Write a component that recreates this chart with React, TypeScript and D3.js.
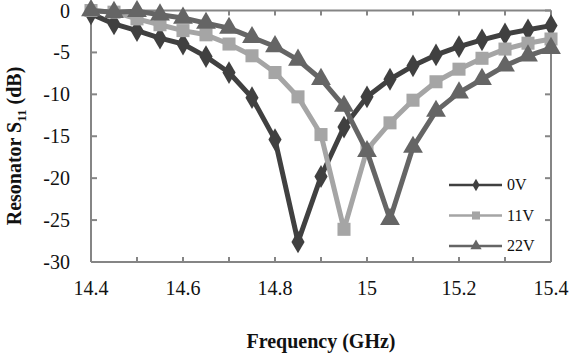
import * as d3 from "d3";
import React from "react";

// frequency points (GHz)
const freq = [14.4, 14.45, 14.5, 14.55, 14.6, 14.65, 14.7, 14.75, 14.8, 14.85, 14.9,
  14.95, 15.0, 15.05, 15.1, 15.15, 15.2, 15.25, 15.3, 15.35, 15.4];

// S11 (dB) for each bias
const s0V = [-0.4, -1.6, -2.4, -3.3, -4.0, -5.5, -7.4, -10.4, -15.4, -27.6, -19.8,
  -13.9, -10.3, -8.2, -6.6, -5.3, -4.3, -3.5, -2.8, -2.3, -1.8];
const s11V = [0, -0.2, -1.0, -1.7, -2.4, -2.9, -4.0, -5.4, -7.4, -10.3, -14.8,
  -26.1, -16.6, -13.4, -10.7, -8.5, -7.0, -5.7, -4.6, -3.9, -3.4];
const s22V = [0, -0.2, -0.1, -0.5, -0.9, -1.5, -2.1, -3.2, -4.3, -5.9, -8.2,
  -11.4, -16.8, -24.9, -16.3, -12.0, -9.8, -8.2, -6.6, -5.4, -4.5];

const xTicks = [14.4, 14.5, 14.6, 14.7, 14.8, 14.9, 15.0, 15.1, 15.2, 15.3, 15.4];
const xLabels = [14.4, 14.6, 14.8, 15, 15.2, 15.4];
const yTicks = [0, -5, -10, -15, -20, -25, -30];

const series = [
  { name: "0V", values: s0V, color: "#404040", symbol: d3.symbolDiamond, size: 150, lsize: 45 },
  { name: "11V", values: s11V, color: "#a5a5a5", symbol: d3.symbolSquare, size: 170, lsize: 65 },
  { name: "22V", values: s22V, color: "#656565", symbol: d3.symbolTriangle, size: 170, lsize: 55 },
];

const W = 571, H = 354;
const left = 91, right = 551, top = 10.5, bottom = 262;
const axisColor = "#858585";

export default function App() {
  const x = d3.scaleLinear().domain([14.4, 15.4]).range([left, right]);
  const y = d3.scaleLinear().domain([0, -30]).range([top, bottom]);
  const line = d3.line<number>().x((_, i) => x(freq[i])).y(d => y(d));

  return (
    <svg width={W} height={H}
      style={{ position: "absolute", left: 0, top: 0, background: "#fff", fontFamily: "'Liberation Serif', 'Times New Roman', Times, serif" }}>
      {/* frame */}
      <g stroke={axisColor} strokeWidth={2} fill="none">
        <line x1={left} x2={right} y1={top} y2={top} />
        <line x1={left} x2={right} y1={bottom} y2={bottom} />
        <line x1={left} x2={left} y1={top} y2={bottom} />
        <line x1={right} x2={right} y1={top} y2={bottom} />
        {xTicks.map(t => (
          <g key={"xt" + t}>
            <line x1={x(t)} x2={x(t)} y1={top} y2={top + 5} />
            <line x1={x(t)} x2={x(t)} y1={bottom} y2={bottom - 5} />
          </g>
        ))}
        {yTicks.map(t => (
          <g key={"yt" + t}>
            <line x1={left} x2={left + 6} y1={y(t)} y2={y(t)} />
            <line x1={right} x2={right - 6} y1={y(t)} y2={y(t)} />
          </g>
        ))}
      </g>

      {/* tick labels */}
      <g fontSize={20} fill="#111">
        {xLabels.map(t => (
          <text key={"xl" + t} x={x(t)} y={295} textAnchor="middle">{String(t)}</text>
        ))}
        {yTicks.map(t => (
          <text key={"yl" + t} x={70} y={y(t) + 7} textAnchor="end">{String(t)}</text>
        ))}
      </g>

      {/* axis titles */}
      <text x={321} y={348} textAnchor="middle" fontSize={20} fontWeight="bold" fill="#111">
        Frequency (GHz)
      </text>
      <text transform="translate(21,146) rotate(-90)" textAnchor="middle" fontSize={20}
        fontWeight="bold" fill="#111">
        Resonator S<tspan fontSize={13} dy={5}>11</tspan><tspan dy={-5}> (dB)</tspan>
      </text>

      {/* series */}
      {series.map(s => (
        <g key={s.name}>
          <path d={line(s.values) || ""} fill="none" stroke={s.color} strokeWidth={5} strokeLinejoin="round" />
          {s.values.map((v, i) => (
            <path key={i} d={d3.symbol().type(s.symbol).size(s.size)() || ""}
              transform={`translate(${x(freq[i])},${y(v)})`} fill={s.color} />
          ))}
        </g>
      ))}

      {/* legend */}
      {series.map((s, i) => {
        const ly = 185 + i * 30.5;
        return (
          <g key={"lg" + s.name}>
            <line x1={449} x2={502} y1={ly} y2={ly} stroke={s.color} strokeWidth={2.5} />
            <path d={d3.symbol().type(s.symbol).size(s.lsize)() || ""} transform={`translate(476,${ly})`} fill={s.color} />
            <text x={507} y={ly + 5} fontSize={16} fill="#111">{s.name}</text>
          </g>
        );
      })}
    </svg>
  );
}
